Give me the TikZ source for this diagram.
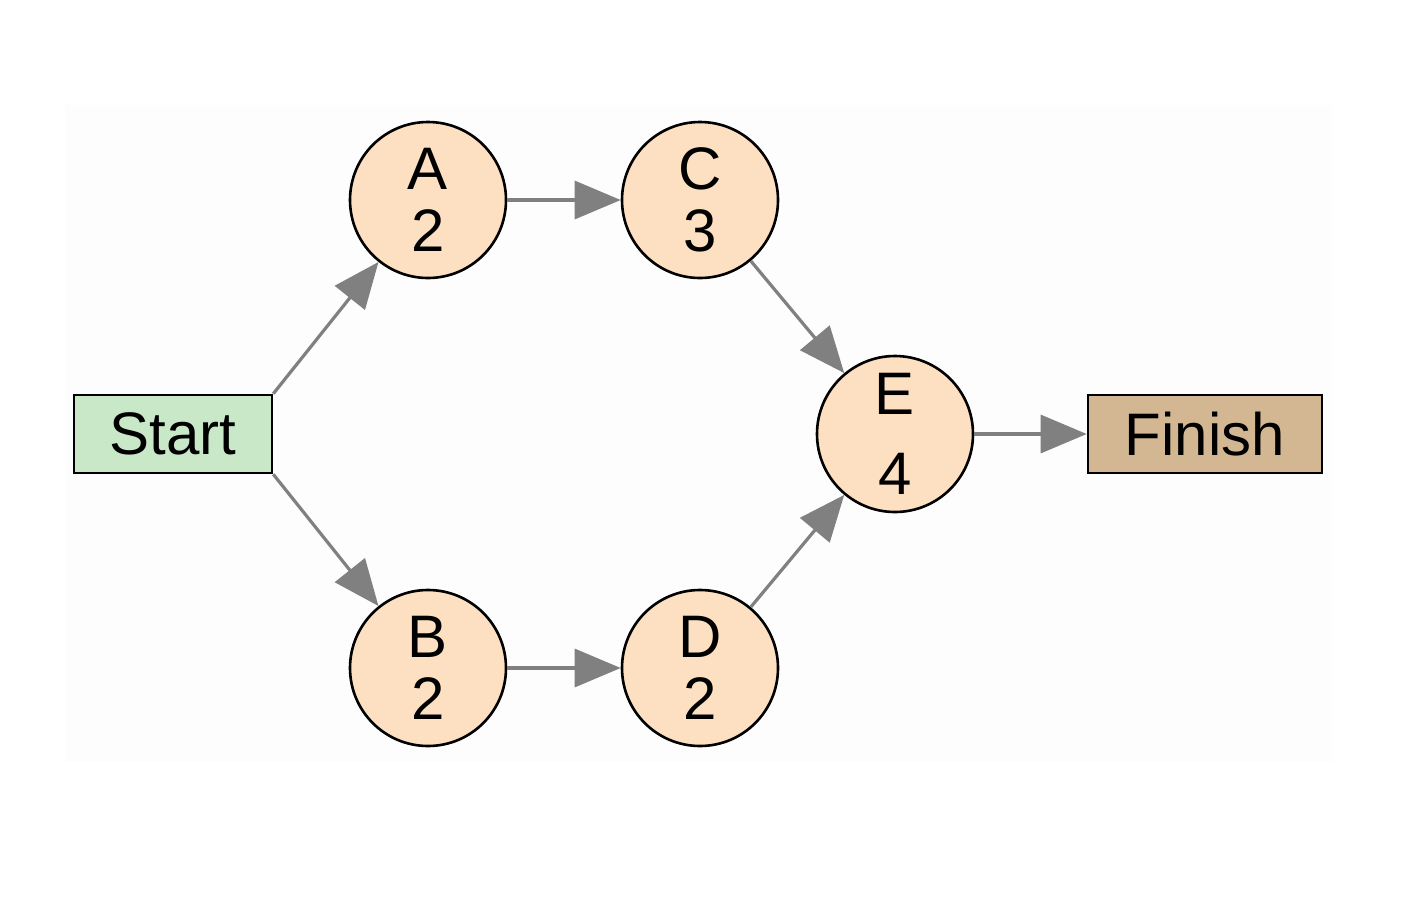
\documentclass[tikz,border=0pt]{standalone}
\usepackage{fontspec}
\setmainfont{Liberation Sans}
\usetikzlibrary{arrows.meta}
\begin{document}
\begin{tikzpicture}[x=0.5pt,y=-0.5pt,
  circ/.style={circle,draw=black,line width=1.3pt,fill=ctfill,minimum size=78pt,inner sep=0pt,font=\fontsize{30}{31}\selectfont,align=center},
  box/.style={rectangle,draw=black,line width=1.3pt,minimum height=39pt,inner sep=0pt,font=\fontsize{30}{32}\selectfont},
  arr/.style={draw=gray,line width=1.6pt,-{Triangle[length=23pt,width=19pt]},fill=gray}]
\definecolor{ctfill}{HTML}{FDE0C2}
\useasboundingbox (0,0) rectangle (1414,922);
\fill[white] (0,0) rectangle (1414,922);
\fill[black!0.6] (65,105) rectangle (1332,762);
\node[box,fill={rgb,255:red,200;green,232;blue,200},minimum width=99pt] (start) at (173,434) {Start};
\node[box,fill={rgb,255:red,210;green,183;blue,146},minimum width=117pt] (finish) at (1205,434) {Finish};
\node[circ] (A) at (428,200) {A\\2};
\node[circ] (C) at (700,200) {C\\3};
\node[circ] (B) at (428,668) {B\\2};
\node[circ] (D) at (700,668) {D\\2};
\node[circ,font=\fontsize{30}{40}\selectfont] (E) at (895,434) {E\\4};
\draw[arr] (start.north east) -- (A);
\draw[arr] (start.south east) -- (B);
\draw[arr] (A) -- (C);
\draw[arr] (B) -- (D);
\draw[arr] (C) -- (E);
\draw[arr] (D) -- (E);
\draw[arr] (E) -- (finish);
\end{tikzpicture}
\end{document}
